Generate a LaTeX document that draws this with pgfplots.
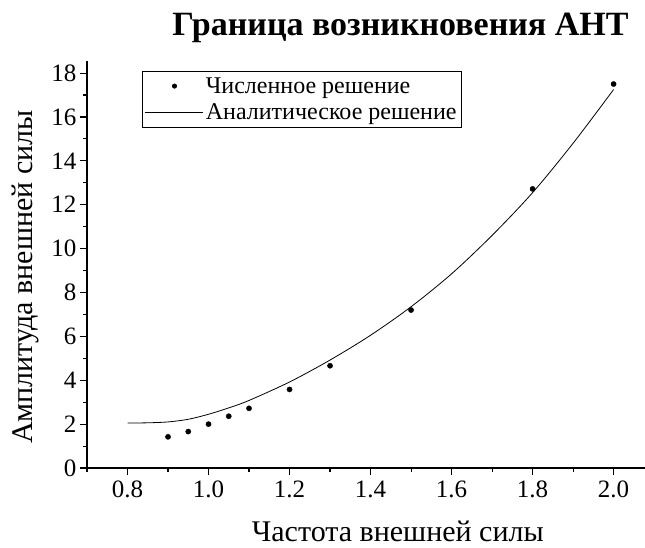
\documentclass[border=0pt]{standalone}
\usepackage{fontspec}
\setmainfont{Liberation Serif}
\newfontfamily\tnr{Liberation Serif}
\usepackage{pgfplots}
\pgfplotsset{compat=1.18}

\begin{document}
\begin{tikzpicture}[x=1pt,y=1pt]
\begin{axis}[
    at={(0,0)}, anchor=origin,
    scale only axis,
    width=559pt, height=407pt,
    xmin=0.7, xmax=2.08,
    ymin=0, ymax=18.55,
    axis x line=bottom, axis y line=left,
    axis line style={-, line width=1.2pt},
    every tick/.style={black, line width=1.1pt},
    tick align=outside,
    major tick length=7pt, minor tick length=4pt,
    xtick={0.8,1.0,1.2,1.4,1.6,1.8,2.0},
    xticklabels={0.8,1.0,1.2,1.4,1.6,1.8,2.0},
    minor xtick={0.7,0.9,1.1,1.3,1.5,1.7,1.9},
    ytick={0,2,4,6,8,10,12,14,16,18},
    yticklabels={0,2,4,6,8,10,12,14,16,18},
    minor ytick={1,3,5,7,9,11,13,15,17},
    tick label style={font=\tnr\fontsize{25}{28}\selectfont},
    xticklabel style={yshift=-2pt},
    xlabel={Частота внешней силы},
    ylabel={Амплитуда внешней силы},
    label style={font=\tnr\fontsize{30}{32}\selectfont},
    xlabel style={at={(axis description cs:0.556,-0.181)}, anchor=base},
    ylabel style={at={(axis description cs:-0.0966,0.469)}, anchor=base},
    legend style={at={(rel axis cs:0.098,0.975)}, anchor=north west,
        draw=black, line width=0.6pt, font=\tnr\fontsize{24}{28}\selectfont,
        inner xsep=3pt, inner ysep=4pt, row sep=5pt},
    legend cell align=left,
]
\addplot[only marks, mark=*, mark size=2.6pt, black,
    legend image code/.code={\fill[black] (29pt,0pt) circle (2.2pt); \path[draw=none] (0pt,0pt) -- (58pt,0pt);}]
    coordinates {
    (0.90,1.42) (0.95,1.66) (1.00,2.00) (1.05,2.36) (1.10,2.72)
    (1.20,3.58) (1.30,4.66) (1.50,7.20) (1.80,12.72) (2.00,17.50)
};
\addlegendentry{Численное решение}
\addplot[black, line width=0.8pt, smooth,
    legend image code/.code={\draw[black, line width=0.8pt] (0pt,0pt) -- (58pt,0pt);}]
    coordinates {
    (0.80,2.05) (0.85,2.06) (0.90,2.10) (0.95,2.22) (1.00,2.45) (1.05,2.74)
    (1.10,3.08) (1.20,3.92) (1.30,4.92) (1.40,6.05) (1.50,7.35)
    (1.60,8.85) (1.70,10.60) (1.80,12.55) (1.90,14.80) (2.00,17.25)
};
\addlegendentry{Аналитическое решение\hspace{12pt}}
\end{axis}
\node[font=\tnr\bfseries\fontsize{34}{40}\selectfont, anchor=base] at (313.5pt, 432pt) {Граница возникновения АНТ};
\pgfresetboundingbox
\path[use as bounding box] (-87pt,-79pt) rectangle (558pt,468pt);
\end{tikzpicture}
\end{document}
